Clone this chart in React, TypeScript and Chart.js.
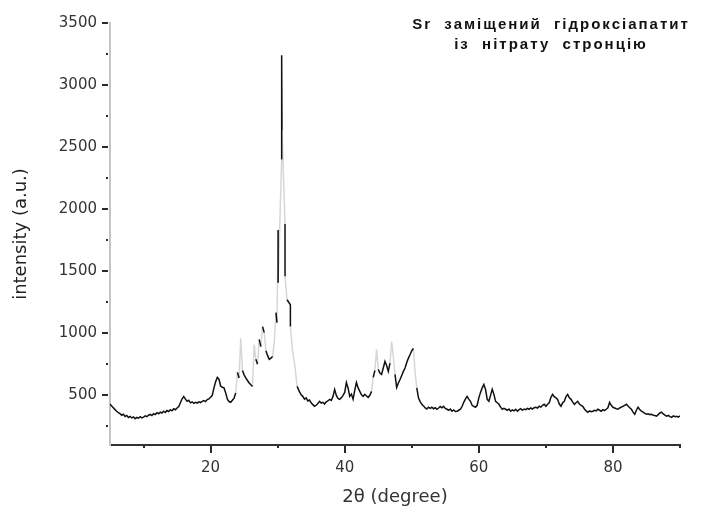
import React, { useEffect, useRef } from 'react';
import { Chart, registerables } from 'chart.js';

Chart.register(...registerables);

// 2θ positions (degrees)
const twoTheta = [
  5, 5.25, 5.5, 5.75, 6, 6.25, 6.5, 6.75, 7, 7.25, 7.5, 7.75, 8, 8.25, 8.5, 8.75, 9, 9.25, 9.5, 9.75,
  10, 10.25, 10.5, 10.75, 11, 11.25, 11.5, 11.75, 12, 12.25, 12.5, 12.75, 13, 13.25, 13.5, 13.75, 14, 14.25, 14.5, 14.75,
  15, 15.25, 15.5, 15.75, 16, 16.25, 16.5, 16.75, 17, 17.25, 17.5, 17.75, 18, 18.25, 18.5, 18.75, 19, 19.25, 19.5, 19.75,
  20, 20.25, 20.5, 20.75, 21, 21.25, 21.5, 21.75, 22, 22.25, 22.5, 22.75, 23, 23.25, 23.5, 23.75, 24, 24.25, 24.5, 24.75,
  25, 25.25, 25.5, 25.75, 26, 26.25, 26.5, 26.75, 27, 27.25, 27.5, 27.75, 28, 28.25, 28.5, 28.75, 29, 29.25, 29.5, 29.75,
  29.9, 30.07, 30.07, 30.6, 30.6, 30.65, 31.1, 31.1, 31.4, 31.9, 31.9, 32.2, 32.6, 32.9, 33.25, 33.5, 33.75, 34, 34.25, 34.5, 34.75,
  35, 35.25, 35.5, 35.75, 36, 36.25, 36.5, 36.75, 37, 37.25, 37.5, 37.75, 38, 38.25, 38.5, 38.75, 39, 39.25, 39.5, 39.75,
  40, 40.25, 40.5, 40.75, 41, 41.25, 41.5, 41.75, 42, 42.25, 42.5, 42.75, 43, 43.25, 43.5, 43.75, 44, 44.25, 44.5, 44.75,
  45, 45.25, 45.5, 45.75, 46, 46.25, 46.5, 46.75, 47, 47.25, 47.5, 47.75, 48, 48.25, 48.5, 48.75, 49, 49.25, 49.5, 49.75,
  50, 50.25, 50.5, 50.75, 51, 51.25, 51.5, 51.75, 52, 52.25, 52.5, 52.75, 53, 53.25, 53.5, 53.75, 54, 54.25, 54.5, 54.75,
  55, 55.25, 55.5, 55.75, 56, 56.25, 56.5, 56.75, 57, 57.25, 57.5, 57.75, 58, 58.25, 58.5, 58.75, 59, 59.25, 59.5, 59.75,
  60, 60.25, 60.5, 60.75, 61, 61.25, 61.5, 61.75, 62, 62.25, 62.5, 62.75, 63, 63.25, 63.5, 63.75, 64, 64.25, 64.5, 64.75,
  65, 65.25, 65.5, 65.75, 66, 66.25, 66.5, 66.75, 67, 67.25, 67.5, 67.75, 68, 68.25, 68.5, 68.75, 69, 69.25, 69.5, 69.75,
  70, 70.25, 70.5, 70.75, 71, 71.25, 71.5, 71.75, 72, 72.25, 72.5, 72.75, 73, 73.25, 73.5, 73.75, 74, 74.25, 74.5, 74.75,
  75, 75.25, 75.5, 75.75, 76, 76.25, 76.5, 76.75, 77, 77.25, 77.5, 77.75, 78, 78.25, 78.5, 78.75, 79, 79.25, 79.5, 79.75,
  80, 80.25, 80.5, 80.75, 81, 81.25, 81.5, 81.75, 82, 82.25, 82.5, 82.75, 83, 83.25, 83.5, 83.75, 84, 84.25, 84.5, 84.75,
  85, 85.25, 85.5, 85.75, 86, 86.25, 86.5, 86.75, 87, 87.25, 87.5, 87.75, 88, 88.25, 88.5, 88.75, 89, 89.25, 89.5, 89.75,
  90,
];

// intensity (a.u.)
const intensity = [
  430, 415, 400, 385, 372, 360, 352, 340, 348, 330, 338, 322, 330, 318, 326, 312, 322, 316, 328, 318,
  325, 335, 328, 340, 346, 338, 352, 345, 360, 352, 365, 358, 372, 362, 378, 370, 384, 375, 392, 384,
  398, 410, 440, 472, 490, 470, 452, 460, 440, 448, 436, 444, 438, 448, 442, 452, 458, 450, 466, 472,
  484, 500, 560, 610, 645, 630, 575, 565, 560, 520, 470, 450, 444, 460, 478, 520, 685, 640, 960, 700,
  665, 640, 620, 600, 585, 572, 910, 790, 750, 950, 893, 1054, 1005, 860, 820, 790, 800, 813, 933, 1166,
  1086, 1833, 1407, 2400, 3240, 2640, 1880, 1460, 1270, 1230, 1054, 870, 725, 572, 530, 505, 492, 470, 480, 455, 462,
  440, 425, 412, 420, 435, 452, 438, 444, 430, 448, 455, 468, 460, 490, 548, 500, 475, 468, 480, 500,
  524, 604, 560, 492, 510, 468, 540, 604, 560, 532, 505, 492, 508, 495, 484, 500, 532, 645, 700, 870,
  709, 680, 669, 720, 773, 740, 693, 760, 933, 813, 669, 564, 600, 628, 660, 693, 720, 765, 800, 829,
  860, 877, 685, 560, 480, 450, 428, 415, 398, 390, 405, 395, 404, 392, 400, 388, 398, 410, 400, 412,
  395, 388, 380, 390, 372, 382, 370, 372, 380, 388, 410, 444, 470, 492, 470, 452, 420, 412, 404, 420,
  480, 524, 560, 588, 548, 468, 452, 500, 548, 508, 452, 440, 428, 405, 388, 395, 388, 380, 390, 372,
  382, 375, 388, 372, 385, 392, 380, 390, 385, 395, 388, 398, 390, 400, 404, 398, 412, 405, 420, 428,
  412, 428, 440, 484, 508, 490, 480, 468, 430, 412, 440, 452, 490, 508, 480, 468, 445, 428, 440, 452,
  430, 420, 412, 390, 375, 364, 375, 368, 372, 380, 375, 388, 380, 372, 385, 378, 388, 400, 444, 420,
  404, 398, 392, 388, 398, 405, 412, 420, 428, 415, 400, 388, 365, 348, 380, 404, 385, 372, 365, 355,
  348, 352, 345, 348, 340, 338, 332, 345, 358, 364, 350, 340, 332, 338, 328, 323, 335, 328, 332, 325,
  335,
];

const xTickValues = [10, 20, 30, 40, 50, 60, 70, 80, 90];
const xLabelValues = [20, 40, 60, 80];
const yTickValues = [250, 500, 750, 1000, 1250, 1500, 1750, 2000, 2250, 2500, 2750, 3000, 3250, 3500];
const yLabelValues = [500, 1000, 1500, 2000, 2500, 3000, 3500];
const xRange = [5, 90];
const yRange = [100, 3500];

const titleLines = ['Sr  заміщений  гідроксіапатит', 'із  нітрату  стронцію'];
const xAxisTitle = '2θ (degree)';
const yAxisTitle = 'intensity (a.u.)';

const decorPlugin = {
  id: 'decor',
  afterDraw(chart: any) {
    const ctx = chart.ctx as CanvasRenderingContext2D;
    const xs = chart.scales.x;
    const ys = chart.scales.y;
    const { left, bottom } = chart.chartArea;
    ctx.save();
    ctx.fillStyle = '#2a2a2a';
    for (const t of ys.ticks) {
      const py = Math.round(ys.getPixelForValue(t.value));
      if (yLabelValues.includes(t.value)) ctx.fillRect(left - 8, py - 1, 6, 2);
      else ctx.fillRect(left - 4, py - 1, 2, 2);
    }
    for (const t of xs.ticks) {
      const px = Math.round(xs.getPixelForValue(t.value));
      if (xLabelValues.includes(t.value)) ctx.fillRect(px - 1, bottom + 1, 2, 7);
      else ctx.fillRect(px - 1, bottom + 1, 2, 2);
    }
    ctx.font = 'bold 15px "Liberation Sans", Arial, sans-serif';
    ctx.textAlign = 'center';
    ctx.textBaseline = 'alphabetic';
    ctx.fillStyle = '#111';
    (ctx as any).letterSpacing = '2px';
    titleLines.forEach((s, i) => ctx.fillText(s, 551, 29 + i * 20));
    ctx.restore();
  },
};

export default function App() {
  const ref = useRef<HTMLCanvasElement | null>(null);
  useEffect(() => {
    document.body.style.margin = '0';
    const canvas = ref.current;
    if (!canvas) return;
    const data = twoTheta.map((x, i) => ({ x, y: intensity[i] }));
    const tickFont = { family: '"DejaVu Sans", sans-serif', size: 15 };
    const titleFont = { family: '"DejaVu Sans", sans-serif', size: 18 };
    const chart = new Chart(canvas, {
      type: 'line',
      data: {
        datasets: [
          {
            data,
            borderColor: '#111',
            borderWidth: 1.5,
            pointRadius: 0,
            tension: 0,
            fill: false,
            segment: {
              borderColor: (c: any) => {
                const dx = Math.abs(c.p1.x - c.p0.x);
                const dy = Math.abs(c.p1.y - c.p0.y);
                if (dx > 0.5 && dy > 14 && dy > 4 * dx) return 'rgba(0,0,0,0.16)';
                return undefined;
              },
            },
          },
        ],
      },
      options: {
        animation: false,
        responsive: false,
        devicePixelRatio: 1,
        layout: { padding: { left: 0, right: 24, top: 23, bottom: 0 } },
        plugins: { legend: { display: false }, tooltip: { enabled: false } },
        scales: {
          x: {
            type: 'linear',
            min: xRange[0],
            max: xRange[1],
            afterBuildTicks: (s: any) => {
              s.ticks = xTickValues.map((v) => ({ value: v }));
            },
            afterFit: (s: any) => {
              s.height = 65;
            },
            ticks: {
              autoSkip: false,
              maxRotation: 0,
              padding: 14,
              color: '#333',
              font: tickFont,
              callback: (v: any) => (xLabelValues.includes(v) ? String(v) : ''),
            },
            grid: { display: true, drawOnChartArea: false, drawTicks: false, color: 'rgba(0,0,0,0)' },
            border: { display: true, color: '#333', width: 2 },
            title: {
              display: true,
              text: xAxisTitle,
              color: '#333',
              font: titleFont,
              padding: { top: 0, bottom: 2 },
            },
          },
          y: {
            type: 'linear',
            min: yRange[0],
            max: yRange[1],
            afterBuildTicks: (s: any) => {
              s.ticks = yTickValues.map((v) => ({ value: v }));
            },
            afterFit: (s: any) => {
              s.width = 110;
            },
            ticks: {
              autoSkip: false,
              padding: 13,
              color: '#333',
              font: tickFont,
              callback: (v: any) => (yLabelValues.includes(v) ? String(v) : ''),
            },
            grid: { display: true, drawOnChartArea: false, drawTicks: false, color: 'rgba(0,0,0,0)' },
            border: { display: true, color: '#c4c4c4', width: 2 },
            title: {
              display: true,
              text: yAxisTitle,
              color: '#222',
              font: titleFont,
              padding: { top: 11, bottom: 0 },
            },
          },
        },
      },
      plugins: [decorPlugin],
    });
    return () => chart.destroy();
  }, []);
  return (
    <div style={{ width: 704, height: 510, position: 'relative' }}>
      <canvas ref={ref} width={704} height={510} />
    </div>
  );
}
